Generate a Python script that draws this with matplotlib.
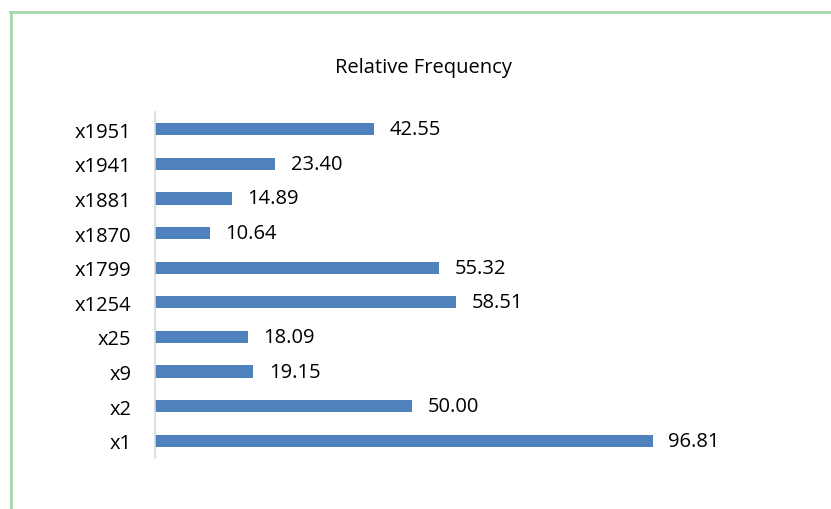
import matplotlib.pyplot as plt
from matplotlib.lines import Line2D

# data, bottom to top
labels = ["x1", "x2", "x9", "x25", "x1254", "x1799", "x1870", "x1881", "x1941", "x1951"]
values = [96.81, 50.00, 19.15, 18.09, 58.51, 55.32, 10.64, 14.89, 23.40, 42.55]

W, H = 831, 510
fig = plt.figure(figsize=(W / 100, H / 100), dpi=100)
plt.rcParams["font.family"] = ["Open Sans", "DejaVu Sans"]

ax = fig.add_axes([155 / W, 1 - 459 / H, (772 - 155) / W, (459 - 113) / H])
pos = range(len(labels))
ax.barh(pos, values, height=0.35, color="#4F81BD")
ax.set_xlim(0, 120)
ax.set_ylim(-0.5, len(labels) - 0.5)

for y, v in zip(pos, values):
    ax.text(v + 3, y, f"{v:.2f}", va="center", ha="left", fontsize=14.5, color="#000000")

ax.set_yticks(list(pos))
ax.set_yticklabels(labels, fontsize=14.5)
ax.tick_params(axis="y", length=0, pad=17)
ax.set_xticks([])
for s in ["top", "right", "bottom"]:
    ax.spines[s].set_visible(False)
ax.spines["left"].set_color("#D9D9D9")
ax.spines["left"].set_linewidth(1.2)

fig.text(423 / W, 1 - 68 / H, "Relative Frequency", ha="center", va="center", fontsize=14.5)

# green chart border (left and top edges visible)
green = "#A6D8A8"
fig.add_artist(Line2D([11 / W, 11 / W], [0, 1 - 13 / H], transform=fig.transFigure, color=green, lw=2))
fig.add_artist(Line2D([10 / W, 1], [1 - 13 / H, 1 - 13 / H], transform=fig.transFigure, color=green, lw=2))

fig.savefig("out.png", dpi=100)
